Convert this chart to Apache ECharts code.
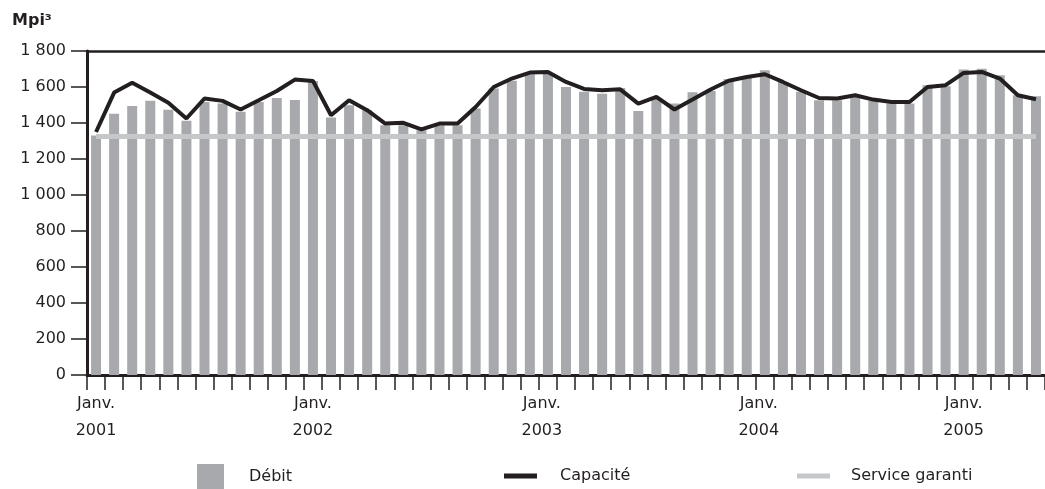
<!DOCTYPE html>
<html><head><meta charset="utf-8">
<script src="https://cdn.jsdelivr.net/npm/echarts@6/dist/echarts.min.js"></script>
<style>html,body{margin:0;padding:0;background:#fff}#c{width:1045px;height:489px}</style>
</head><body><div id="c"></div>
<script>
// Month categories: Jan 2001 -> May 2005
const monthNames = ['Janv.','Févr.','Mars','Avr.','Mai','Juin','Juil.','Août','Sept.','Oct.','Nov.','Déc.'];
const startYear = 2001;
const monthCount = 53;
const categories = [];
for (let i = 0; i < monthCount; i++) {
  categories.push(monthNames[i % 12] + ' ' + (startYear + Math.floor(i / 12)));
}

// Débit (bars)
const debit = [1330,1452,1495,1523,1473,1412,1517,1508,1462,1517,1539,1528,
               1634,1430,1499,1471,1388,1388,1360,1388,1388,1480,1591,1635,
               1671,1674,1600,1573,1563,1595,1467,1536,1508,1571,1578,1645,
               1656,1693,1628,1573,1526,1526,1545,1523,1508,1508,1610,1604,
               1697,1702,1665,1554,1548];
// Capacité (black line)
const capacite = [1350,1569,1623,1569,1513,1425,1536,1523,1475,1526,1578,1641,
                  1634,1443,1526,1471,1397,1401,1365,1397,1397,1489,1600,1647,
                  1680,1684,1628,1589,1582,1587,1508,1545,1475,1530,1586,1635,
                  1656,1671,1628,1582,1539,1536,1554,1530,1517,1517,1600,1610,
                  1678,1684,1647,1554,1532];
// Service garanti (constant level)
const serviceGaranti = 1325;
const serviceSeries = categories.map(() => serviceGaranti);

// Axis labels
const yAxisTitle = 'Mpi³';
const xLabelMonth = 'Janv.';
const shiftedYears = ['2003', '2004'];

const FONT = 'DejaVu Sans';
const INK = '#231f20';
const BAR = '#a7a9ac';
const SERV = '#c6c7c9';

const chart = echarts.init(document.getElementById('c'), null, {renderer: 'canvas'});
chart.setOption({
  animation: false,
  backgroundColor: '#fff',
  textStyle: {fontFamily: FONT, color: INK},
  title: {
    text: yAxisTitle, left: 7, top: 8,
    textStyle: {fontFamily: FONT, fontSize: 16, fontWeight: 'bold', color: INK}
  },
  legend: [
    {data: ['Débit'], left: 197, top: 464, padding: 0, icon: 'rect', itemWidth: 27, itemHeight: 25,
     selectedMode: false,
     textStyle: {fontFamily: FONT, fontSize: 16, color: INK, padding: [0, 0, 0, 20]}},
    {data: ['Capacité'], left: 504, top: 466, padding: 0, icon: 'rect', itemWidth: 33, itemHeight: 5,
     selectedMode: false,
     textStyle: {fontFamily: FONT, fontSize: 16, color: INK, lineHeight: 20, padding: [0, 0, 0, 18]}},
    {data: ['Service garanti'], left: 797, top: 466, padding: 0, icon: 'rect', itemWidth: 33, itemHeight: 5,
     selectedMode: false,
     textStyle: {fontFamily: FONT, fontSize: 16, color: INK, lineHeight: 20, padding: [0, 0, 0, 16]}}
  ],
  grid: {left: 87, right: 0, top: 51, bottom: 114, containLabel: false},
  xAxis: [
    {
      type: 'category', data: categories, boundaryGap: true,
      axisLine: {show: true, lineStyle: {color: INK, width: 3}},
      axisTick: {show: true, interval: 0, length: 15, lineStyle: {color: INK, width: 1.5}},
      axisLabel: {
        interval: 0, margin: 15, fontFamily: FONT, fontSize: 16, color: INK, lineHeight: 27,
        formatter: function (v) {
          const parts = v.split(' ');
          if (parts[0] !== xLabelMonth) return '';
          if (shiftedYears.indexOf(parts[1]) >= 0) {
            return '{s|' + parts[0] + '}\n{s|' + parts[1] + '}';
          }
          return parts[0] + '\n' + parts[1];
        },
        rich: {s: {fontFamily: FONT, fontSize: 16, color: INK, lineHeight: 27, padding: [0, 0, 0, 24]}}
      },
      splitLine: {show: false}
    },
    {
      type: 'category', data: categories, position: 'top',
      axisLine: {show: true, lineStyle: {color: INK, width: 2.5}},
      axisTick: {show: false}, axisLabel: {show: false}, splitLine: {show: false}
    }
  ],
  yAxis: {
    type: 'value', min: 0, max: 1800, interval: 200,
    axisLine: {show: true, lineStyle: {color: INK, width: 3}},
    axisTick: {show: true, length: 16, lineStyle: {color: INK, width: 1.5}},
    splitLine: {show: false},
    axisLabel: {
      margin: 21, fontFamily: FONT, fontSize: 16, color: INK,
      formatter: function (v) { return String(v).replace(/\B(?=(\d{3})+(?!\d))/g, ' '); }
    }
  },
  series: [
    {name: 'Débit', type: 'bar', data: debit, barWidth: 10,
     itemStyle: {color: BAR}, z: 1},
    {name: 'Service garanti', type: 'line', data: serviceSeries, symbol: 'none',
     lineStyle: {color: SERV, width: 5}, itemStyle: {color: SERV}, z: 3},
    {name: 'Capacité', type: 'line', data: capacite, symbol: 'none',
     lineStyle: {color: INK, width: 4}, itemStyle: {color: INK}, z: 4}
  ]
});
</script>
</body></html>
